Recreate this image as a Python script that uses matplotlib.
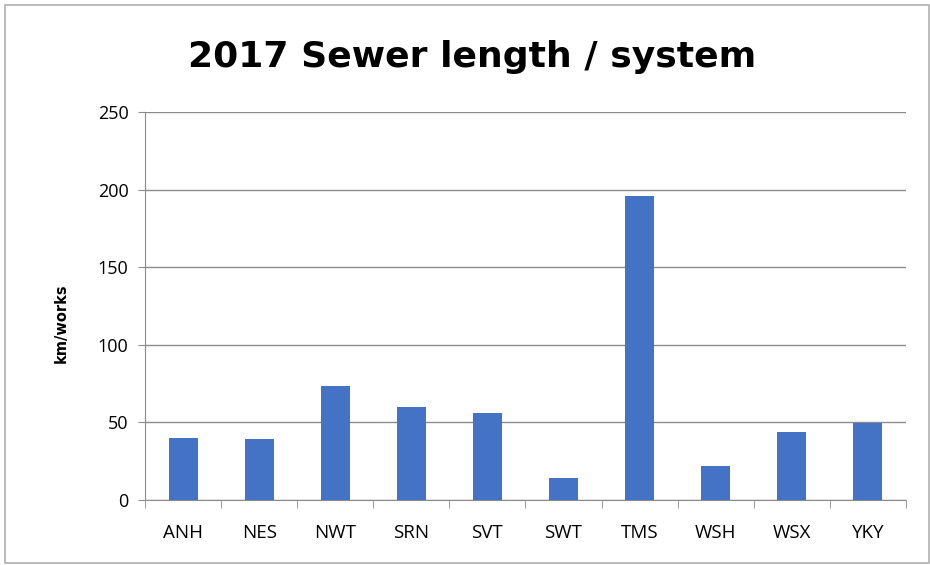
import matplotlib
matplotlib.use("Agg")
import matplotlib.pyplot as plt
import numpy as np
from matplotlib.patches import Rectangle

# Dados
systems = ['ANH', 'NES', 'NWT', 'SRN', 'SVT', 'SWT', 'TMS', 'WSH', 'WSX', 'YKY']
sewer_km = [39.7, 39.3, 73.4, 60.0, 55.8, 14.0, 195.8, 21.9, 43.8, 49.8]
y_ticks = [0, 50, 100, 150, 200, 250]

fig = plt.figure(figsize=(9.3, 5.65), dpi=100)
ax = fig.add_axes([0.156, 0.115, 0.818, 0.687])

x = np.arange(len(systems))
ax.bar(x, sewer_km, width=0.38, color='#4472C4', zorder=3)

ax.set_xlim(-0.5, len(systems) - 0.5)
ax.set_ylim(0, 250)
ax.set_yticks(y_ticks)
ax.yaxis.grid(True, color='#8c8c8c', linewidth=1.0, zorder=0)

# Rótulos do eixo X centralizados, marcas nas fronteiras
ax.set_xticks(x)
ax.set_xticklabels(systems, fontsize=13.5, family='Open Sans')
ax.set_xticks(np.arange(-0.5, len(systems), 1.0), minor=True)
ax.tick_params(axis='x', which='major', length=0, pad=17)
ax.tick_params(axis='x', which='minor', length=6, color='#8c8c8c', direction='out')
ax.tick_params(axis='y', length=5, color='#8c8c8c', labelsize=13, pad=7)
for lbl in ax.get_yticklabels():
    lbl.set_family('Open Sans')

for side in ['top', 'right']:
    ax.spines[side].set_visible(False)
ax.spines['left'].set_color('#8c8c8c')
ax.spines['bottom'].set_color('#8c8c8c')

ax.set_ylabel('km/works', fontsize=10.5, fontweight='bold')
ax.yaxis.set_label_coords(-0.1, 0.455)

fig.text(0.508, 0.9, '2017 Sewer length / system', ha='center', va='center',
         fontsize=26, fontweight='bold')

# Moldura do gráfico
fig.patches.append(Rectangle((0.005, 0.004), 0.994, 0.987, transform=fig.transFigure,
                             fill=False, edgecolor='#b0b0b0', linewidth=1.2))

fig.savefig('out.png', dpi=100)
